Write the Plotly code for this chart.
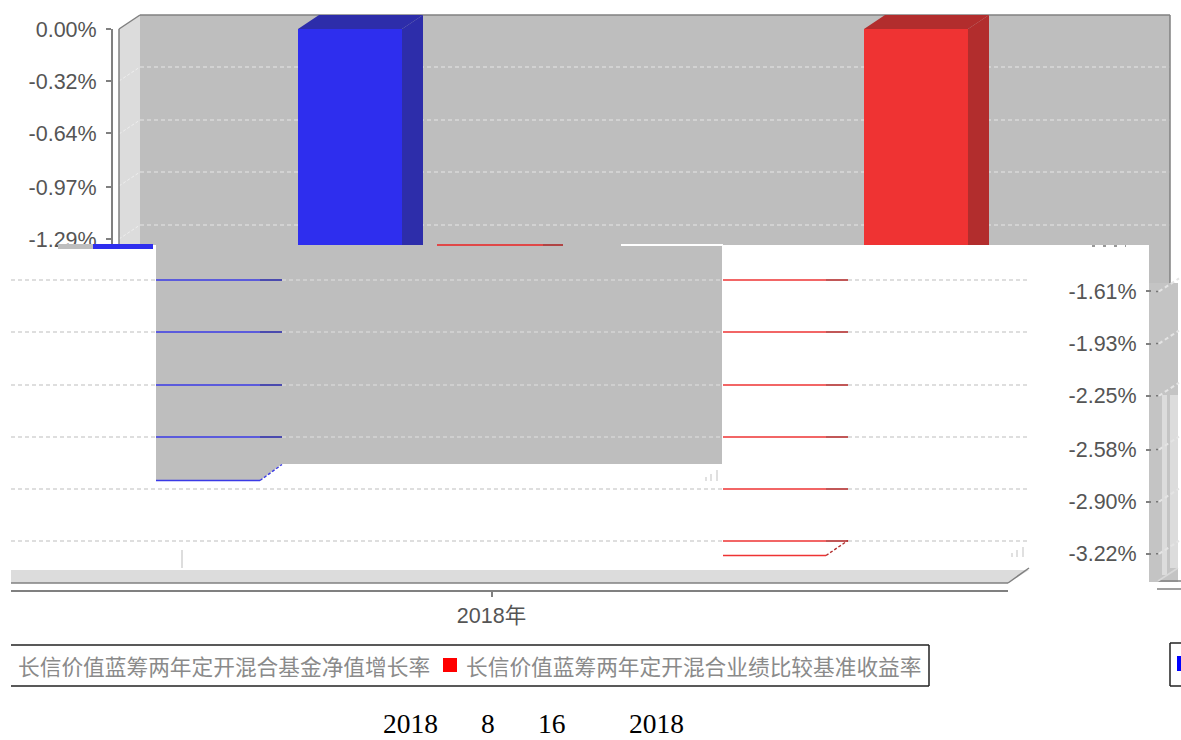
import plotly.graph_objects as go

# ---------- data ----------
categories = ["2018年"]
series_names = ["长信价值蓝筹两年定开混合基金净值增长率", "长信价值蓝筹两年定开混合业绩比较基准收益率"]
fund_values = [-2.77]
benchmark_values = [-3.23]
upper_ticks = [0.00, -0.32, -0.64, -0.97, -1.29]
lower_ticks = [-1.61, -1.93, -2.25, -2.58, -2.90, -3.22]
caption_parts = ["2018", "8", "16", "2018"]

W, H = 1181, 740
BLUE, BLUE_D = "#2E2EEE", "#2D2DAA"
RED, RED_D = "#EF3333", "#B22D2D"
WALL, WALL_L = "#BEBEBE", "#DCDCDC"
LINE = "#808080"
TXT = "#555555"
SANS = "Liberation Sans, Noto Sans CJK SC"
CJK = "Noto Sans CJK SC"


def px(x):
    return x / W


def py(y):
    return 1 - y / H


def val(y):            # pixel row -> value on the value axis
    return -(y - 29) / 163.0


def row(v):            # value -> pixel row
    return 29 - v * 163.0


CX, FRONT = 633.5, 1029.0   # category centre (upper part) and front-plane width
BAR_W = 104 / FRONT
OFF_B = (298 - CX) / FRONT
OFF_R = (864 - CX) / FRONT
LOW_CX = CX - 142


def rect(x0, y0, x1, y1, color, layer="below"):
    return dict(type="rect", xref="paper", yref="paper", x0=px(x0), x1=px(x1), y0=py(y0), y1=py(y1),
                fillcolor=color, line=dict(width=0), layer=layer)


def seg(x0, y0, x1, y1, color, width=1, dash=None, layer="above"):
    ln = dict(color=color, width=width)
    if dash:
        ln["dash"] = dash
    return dict(type="line", xref="paper", yref="paper", x0=px(x0), x1=px(x1), y0=py(y0), y1=py(y1),
                line=ln, layer=layer)


def poly(points, color, layer="above"):
    d = "M " + " L ".join(f"{px(a):.5f},{py(b):.5f}" for a, b in points) + " Z"
    return dict(type="path", xref="paper", yref="paper", path=d, fillcolor=color, line=dict(width=0), layer=layer)


DASH = "4px,3px"
shapes = []

# ---- upper fragment: walls and grid
shapes += [
    rect(140, 15, 1170, 245, WALL),
    poly([(119, 29), (140, 15), (140, 245), (119, 245)], WALL_L, "below"),
    rect(298 - 142, 245, 723, 464, WALL),
    rect(1149, 245, 1170, 290, WALL),
]
up_back_rows = [67, 120, 172, 225]
for yb in up_back_rows:
    shapes.append(seg(140, yb, 1170, yb, "#E6E6E6", 1, DASH, "below"))
    shapes.append(seg(119, yb + 14, 140, yb, "#EEEEEE", 1, "3px,2px", "below"))
shapes += [
    seg(119, 29, 119, 245, LINE, 1.5),
    seg(119, 29, 140, 15, LINE, 1.5),
    seg(140, 15, 1170, 15, LINE, 1.5),
    seg(1170, 15, 1170, 283, LINE, 1.5),
]

# ---- upper bars: 3D faces
for left, front_end, dark in [(298, 402, BLUE_D), (864, 968, RED_D)]:
    shapes.append(poly([(left, 29), (left + 21, 15), (front_end + 21, 15), (front_end, 29)], dark))
    shapes.append(poly([(front_end, 29), (front_end + 21, 15), (front_end + 21, 245), (front_end, 245)], dark))

# ---- seam details
shapes += [
    rect(0, 249, 156, 262, "#FFFFFF", "above"),
    rect(58, 244, 93, 249, WALL, "above"),
    rect(93, 244, 153, 249, BLUE, "above"),
    rect(437, 244, 543, 246, "#E04848", "above"),
    rect(543, 244, 563, 246, "#B04444", "above"),
    rect(621, 244, 723, 246, "#FFFFFF", "above"),
    rect(723, 245, 1149, 262, "#FFFFFF", "above"),
    seg(1092, 246, 1126, 246, "#777777", 1.5, "3px,8px"),
]

# ---- lower fragment: grid rows with colour by what is behind them
low_back_rows = [280, 332, 385, 437, 489, 541]
GRID_ON_WHITE = "#BDBDBD"
for i, yb in enumerate(low_back_rows):
    if yb < 464:
        shapes.append(seg(11, yb, 156, yb, GRID_ON_WHITE, 1, DASH))
        shapes.append(seg(282, yb, 723, yb, "#E0E0E0", 1, DASH))
        shapes.append(seg(156, yb, 260, yb, "#3A3AE6", 1.6))
        shapes.append(seg(260, yb, 282, yb, BLUE_D, 1.6))
    else:
        shapes.append(seg(11, yb, 723, yb, GRID_ON_WHITE, 1, DASH))
    shapes.append(seg(723, yb, 826, yb, "#EE3333", 1.6))
    shapes.append(seg(826, yb, 848, yb, RED_D, 1.6))
    shapes.append(seg(848, yb, 1028, yb, GRID_ON_WHITE, 1, DASH))

# bar bottoms in the lower fragment follow the series values
yb_b = row(fund_values[0])
yb_r = row(benchmark_values[0])
shapes += [
    poly([(260, 464), (282, 464), (260, yb_b)], WALL, "below"),
    seg(156, yb_b, 260, yb_b, "#3A3AE6", 1.6),
    seg(260, yb_b, 282, yb_b - 16, "#3A3AE6", 1.4, "3px,2px"),
    seg(723, yb_r, 826, yb_r, "#EE3333", 1.6),
    seg(826, yb_r, 848, yb_r - 15, RED_D, 1.4, "3px,2px"),
]

# ---- floor
shapes += [
    poly([(11, 570), (1029, 570), (1008, 583), (11, 583)], WALL_L, "below"),
    seg(11, 583, 1008, 583, LINE, 1.5),
    seg(1008, 583, 1029, 568, LINE, 1.5),
    rect(0, 570, 11, 600, "#FFFFFF", "above"),
    seg(182, 550, 182, 568, "#BBBBBB", 1),
]
for x_, top_ in [(706, 477), (711, 474), (717, 470)]:
    shapes.append(seg(x_, top_, x_, 481, "#CCCCCC", 1.2))
for x_, top_ in [(1012, 553), (1017, 550), (1023, 547)]:
    shapes.append(seg(x_, top_, x_, 557, "#CCCCCC", 1.2))

# ---- wrapped strip at the right edge
shapes += [
    rect(1149, 283, 1178, 582, "#C4C4C4"),
    rect(1162, 395, 1167, 575, WALL_L),
    rect(1170, 395, 1178, 568, WALL_L),
    seg(1158, 581, 1181, 581, LINE, 1.5),
    seg(1158, 581, 1178, 568, "#D8D8D8", 1.5),
    seg(1157, 589, 1181, 589, LINE, 1.5),
]
for v in lower_ticks:
    y_ = row(v)
    shapes.append(seg(1159, y_, 1179, y_ - 13, "#E4E4E4", 2, "4px,3px"))
    shapes.append(seg(1156, y_, 1158, y_, "#777777", 1.5))

# ---- legend boxes
shapes += [
    seg(11, 645, 929, 645, "#222222", 1.5),
    seg(11, 686, 929, 686, "#222222", 1.5),
    seg(929, 645, 929, 686, "#222222", 1.5),
    rect(443, 658, 457, 672, "#FF0000", "above"),
    seg(1170, 643, 1181, 643, "#222222", 1.5),
    seg(1170, 686, 1181, 686, "#222222", 1.5),
    seg(1170, 643, 1170, 686, "#222222", 1.5),
    rect(1177, 656, 1181, 671, "#0000FF", "above"),
]

# ---------- traces ----------
fig = go.Figure()
for vals, off, color, name in [(fund_values, OFF_B, BLUE, series_names[0]),
                               (benchmark_values, OFF_R, RED, series_names[1])]:
    fig.add_bar(x=categories, y=vals, name=name, width=BAR_W, offset=off,
                marker=dict(color=color, line=dict(width=0)), xaxis="x", yaxis="y", showlegend=False)
for vals, off, color, name in [(fund_values, OFF_B, WALL, series_names[0]),
                               (benchmark_values, OFF_R, "#FFFFFF", series_names[1])]:
    fig.add_bar(x=categories, y=vals, name=name, width=BAR_W, offset=off,
                marker=dict(color=color, line=dict(width=0)), xaxis="x2", yaxis="y2", showlegend=False)

tick_font = dict(family=SANS, size=21.5, color=TXT)
axis_common = dict(tickmode="array", ticks="outside", ticklen=5, tickcolor=LINE, tickwidth=1.5,
                   tickfont=tick_font, showgrid=False, zeroline=False, anchor="free", ticklabelstandoff=5)

fig.update_layout(
    width=W, height=H, autosize=False, margin=dict(l=0, r=0, t=0, b=0, autoexpand=False),
    paper_bgcolor="#FFFFFF", plot_bgcolor="rgba(0,0,0,0)", barmode="overlay", showlegend=False,
    font=dict(family=SANS),
    xaxis=dict(domain=[px(119), px(1148)], type="category", categoryorder="array", categoryarray=categories,
               range=[-0.5, 0.5], visible=False, anchor="y"),
    yaxis=dict(domain=[py(245), py(29)], range=[val(245), 0], position=px(112), tickvals=upper_ticks,
               ticktext=[f"{v:.2f}%" for v in upper_ticks], showline=True, linecolor=LINE, linewidth=2,
               **axis_common),
    xaxis2=dict(domain=[0, px(1008)], type="category", categoryorder="array", categoryarray=categories,
                range=[(0 - LOW_CX) / FRONT, (1008 - LOW_CX) / FRONT], anchor="y2", showline=True,
                linecolor=LINE, linewidth=2, ticks="outside", ticklen=5, tickcolor=LINE, tickwidth=1.5,
                tickfont=tick_font, showgrid=False, ticklabelstandoff=0),
    yaxis2=dict(domain=[py(590), py(245)], range=[val(590), val(245)], position=px(1151), tickvals=lower_ticks,
                ticktext=[f"{v:.2f}%" for v in lower_ticks], showline=False, **axis_common),
    shapes=shapes,
)

# legend labels and bottom caption
for text, x_ in zip(series_names, [16, 464]):
    fig.add_annotation(text=text, xref="paper", yref="paper", x=px(x_), y=py(665), xanchor="left", yanchor="middle",
                       showarrow=False, font=dict(family=CJK, size=21.7, color="#8A8A8A"))
for text, x_ in zip(caption_parts, [410.5, 487.5, 551.5, 656]):
    fig.add_annotation(text=text, xref="paper", yref="paper", x=px(x_), y=py(723), xanchor="center", yanchor="middle",
                       borderpad=0, showarrow=False,
                       font=dict(family="Liberation Serif", size=27.5, color="#000000"))

fig.write_html("out.html", config=dict(displayModeBar=False),
               post_script="document.body.style.margin='0';document.body.style.overflow='hidden';")
